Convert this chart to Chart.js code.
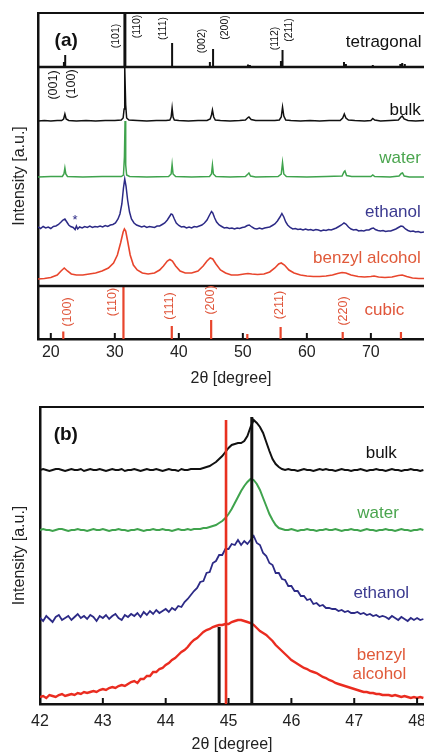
<!DOCTYPE html>
<html lang="en">
<head>
<meta charset="UTF-8">
<title>XRD patterns</title>
<script src="https://cdn.jsdelivr.net/npm/chart.js"></script>
<style>
  body { margin: 0; background: #fff; width: 424px; height: 754px; overflow: hidden; position: relative; }
  #boxA { position: absolute; left: 0; top: 0; }
  #boxB { position: absolute; left: 0; top: 395px; }
</style>
</head>
<body>
<div id="boxA"><canvas id="chartA" width="424" height="395"></canvas></div>
<div id="boxB"><canvas id="chartB" width="424" height="359"></canvas></div>
<script>
// ---------- panel (a): 2theta 18-78, intensities in a.u. above each baseline ----------
const ticksA = [20, 30, 40, 50, 60, 70];

const bulkA = [[18,0],[19,0.5],[20,0],[21,0.5],[21.7,0.5],[22.0,2],[22.2,7],[22.4,2],[22.8,0.5],[24,0],[25.5,0.5],[27,0],[28.5,0.5],[30,0.5],[31.0,1],[31.3,3],[31.45,12],[31.55,54],[31.7,16],[31.85,3],[32.2,1],[33.5,0.5],[35,0],[36.5,0.5],[38.0,0.5],[38.6,1],[38.8,4],[38.95,13],[39.1,4],[39.3,1],[40,0.5],[41.5,0],[43,0.5],[44.4,0.5],[44.9,2],[45.1,6],[45.25,11],[45.45,4],[45.7,1],[46.5,0.5],[48,0],[49.5,0.5],[50.4,1],[50.8,3.5],[50.95,4],[51.3,1.5],[52,0.5],[53.5,0.5],[55,0.5],[55.7,1],[56.0,4],[56.2,14],[56.4,5],[56.7,1],[57.5,0.5],[59,0],[60.5,0.5],[62,0],[63.5,0.5],[65.2,0.5],[65.6,3],[65.85,7],[66.1,3],[66.5,1],[67.5,0.5],[69,0],[70.0,0.5],[70.3,2.5],[70.6,1],[71.5,0],[73,0.5],[74.3,1],[74.7,4],[74.9,5],[75.2,2],[75.8,0.5],[77,0],[78.3,0.5]];

const waterA = [[18,0],[20,0.5],[21.8,0.5],[22.05,3],[22.2,9],[22.35,3],[22.6,0.5],[25,0],[28,0.5],[31.0,0.5],[31.35,2],[31.5,20],[31.6,56],[31.7,12],[31.85,2],[32.3,0.5],[35,0],[38.4,0.5],[38.8,3],[38.95,12.5],[39.1,3],[39.5,0.5],[42,0],[44.8,0.5],[45.1,3],[45.25,12],[45.4,3],[45.8,0.5],[48,0],[50.4,0.5],[50.8,3],[50.95,4],[51.2,1],[52,0],[55.5,0.5],[56.0,3],[56.2,14.5],[56.4,3],[56.8,0.5],[60,0],[63,0.5],[65.5,1],[65.8,5],[65.95,6],[66.2,1.5],[67,0.5],[70,0.5],[70.3,2],[70.6,0.5],[73,0],[74.4,1],[74.75,3.5],[74.95,4],[75.2,1],[76,0],[78.3,0]];

const ethanolA = [[18,1],[18.4,-0.5],[18.8,1.5],[19.2,0],[19.6,1],[20,-0.5],[20.4,1.5],[20.8,2],[21.2,3.5],[21.6,6],[21.9,8],[22.2,9],[22.5,6],[22.8,3],[23.1,1.5],[23.5,0.5],[23.8,-1.5],[24.0,2],[24.2,-1],[24.5,1],[24.9,0],[25.3,1.5],[25.7,0.5],[26.1,2],[26.5,0.5],[26.9,1.5],[27.3,1],[27.7,2],[28.1,1],[28.5,2.5],[28.9,1.5],[29.3,3],[29.7,3.5],[30.1,5],[30.5,9],[30.8,14],[31.1,24],[31.35,40],[31.55,49],[31.75,42],[32.0,28],[32.3,16],[32.6,9],[33.0,5],[33.4,3],[33.8,2],[34.2,1],[34.6,2],[35,0.5],[35.4,1.5],[35.8,1],[36.2,0.5],[36.6,2],[37.0,2],[37.4,3.5],[37.8,5],[38.2,8],[38.5,11],[38.8,14],[39.0,13.5],[39.3,9],[39.6,5],[40.0,2.5],[40.4,1],[40.8,1.5],[41.2,0],[41.6,1],[42.0,0],[42.4,1.5],[42.8,1],[43.2,2],[43.6,3],[44.0,5],[44.4,8],[44.8,13],[45.1,16.5],[45.3,15],[45.6,10],[45.9,6],[46.3,3],[46.7,1.5],[47.1,0],[47.5,0.5],[47.9,-0.5],[48.3,0],[48.7,-1],[49.1,0],[49.5,-0.5],[49.9,0.5],[50.3,1],[50.7,2.5],[51.0,3],[51.4,1],[51.8,-0.5],[52.2,-1],[52.6,0],[53.0,-1],[53.4,0],[53.8,0.5],[54.2,1],[54.6,2.5],[55.0,4],[55.4,7],[55.8,11],[56.1,14.5],[56.4,11],[56.7,6],[57.0,3],[57.4,0.5],[57.8,-1],[58.2,-0.5],[58.6,-1.5],[59,-1],[59.4,-2],[59.8,-1],[60.2,-2],[60.6,-1.5],[61,-2.5],[61.4,-1.5],[61.8,-2],[62.2,-3],[62.6,-2],[63,-2.5],[63.4,-1.5],[63.8,-2],[64.2,-1],[64.6,0],[65,1.5],[65.4,3],[65.8,5],[66.1,4],[66.5,1],[66.9,-1],[67.3,-2],[67.7,-1.5],[68.1,-3],[68.5,-2.5],[68.9,-3],[69.3,-2],[69.7,-2],[70.1,-0.5],[70.4,0],[70.7,-1.5],[71.1,-2.5],[71.5,-3],[71.9,-2.5],[72.3,-3.5],[72.7,-3],[73.1,-3],[73.5,-2],[73.9,-1],[74.3,0.5],[74.7,2],[75.0,1.5],[75.4,-1],[75.8,-2.5],[76.2,-3.5],[76.6,-3],[77,-4],[77.4,-3.5],[77.8,-4.5],[78.3,-4]];

const benzylA = [[18,0],[19,0.5],[20,1.5],[21,4],[21.6,8],[22.1,11],[22.6,8],[23.2,5],[24,4],[25,4],[26,5],[27,6],[28,8],[29,11],[29.8,16],[30.4,24],[30.9,36],[31.3,47],[31.5,50],[31.7,48],[32.0,38],[32.4,24],[32.9,14],[33.5,9],[34.3,6],[35.2,5],[36.2,6],[37.0,9],[37.6,13],[38.2,18],[38.6,19.5],[39.0,18],[39.5,13],[40.2,8],[41.0,6],[42.0,6],[43.0,8],[43.8,13],[44.4,18],[44.9,21],[45.3,20],[45.8,15],[46.5,9],[47.3,6],[48.2,4],[49.2,4],[50.2,5],[50.8,5.5],[51.4,5],[52.3,4.5],[53.3,5],[54.2,7],[55.0,11],[55.6,15],[56.0,16],[56.5,14],[57.2,9],[58.0,6],[59.0,4],[60,3],[61,2.5],[62,2.5],[63,3],[64,4],[64.8,5.5],[65.5,6.5],[66.1,6],[66.9,4],[68,2.5],[69,2],[70,2.5],[70.5,3],[71.2,2],[72.2,1.5],[73.3,2],[74.3,3.5],[74.9,4],[75.6,2.5],[76.5,1],[77.5,0.5],[78.3,0.5]];

// reference patterns: [2theta, relative intensity]
const tetraSticks = [[22.05,5],[22.25,12],[31.5,54],[31.65,54],[38.95,24],[44.85,5],[45.35,18],[50.8,2.5],[51.1,2],[55.95,6],[56.2,17],[65.8,5],[66.1,3],[70.3,2],[74.6,3],[74.9,4],[75.3,3]];
const cubicSticks = [[21.95,7.5],[31.35,53],[38.9,13],[45.05,19],[50.7,5],[55.9,12],[65.6,7],[74.7,7]];

// vertical stacking of panel (a)
const offA = { tetra: 272, bulk: 218, water: 162, ethanol: 111, benzyl: 60, cubic: 0, top: 326, cubicTop: 53 };

// ---------- panel (b): zoom on 42-48 ----------
const ticksB = [42, 43, 44, 45, 46, 47, 48];
const thetaB = [42,42.05,42.1,42.15,42.2,42.25,42.3,42.35,42.4,42.45,
  42.5,42.55,42.6,42.65,42.7,42.75,42.8,42.85,42.9,42.95,
  43,43.05,43.1,43.15,43.2,43.25,43.3,43.35,43.4,43.45,
  43.5,43.55,43.6,43.65,43.7,43.75,43.8,43.85,43.9,43.95,
  44,44.05,44.1,44.15,44.2,44.25,44.3,44.35,44.4,44.45,
  44.5,44.55,44.6,44.65,44.7,44.75,44.8,44.85,44.9,44.95,
  45,45.05,45.1,45.15,45.2,45.25,45.3,45.35,45.4,45.45,
  45.5,45.55,45.6,45.65,45.7,45.75,45.8,45.85,45.9,45.95,
  46,46.05,46.1,46.15,46.2,46.25,46.3,46.35,46.4,46.45,
  46.5,46.55,46.6,46.65,46.7,46.75,46.8,46.85,46.9,46.95,
  47,47.05,47.1,47.15,47.2,47.25,47.3,47.35,47.4,47.45,
  47.5,47.55,47.6,47.65,47.7,47.75,47.8,47.85,47.9,47.95,
  48,48.05,48.1];
const bulkB = [0,1,0,-1,0,1,1,0,-1,0,
  1,0,0,1,-1,0,1,0,0,1,
  0,-1,0,1,0,0,1,-1,0,0,
  1,0,-1,0,1,0,0,1,0,-1,
  0,1,0,0,-1,1,0,0,1,1,
  1,1,2,3,4,6,8,11,14,18,
  22,25,26,27,27,29,34,43,50,47,
  43,37,28,19,11,6,3,1,0,1,
  0,0,-1,0,1,0,0,-1,0,1,
  0,1,0,0,-1,0,1,0,0,-1,
  0,0,1,0,-1,0,0,1,0,0,
  -1,0,1,0,0,-1,0,0,1,0,
  0,-1,0];
const waterB = [0,1,0,0,-1,0,1,1,0,-1,
  0,0,1,0,0,-1,0,1,0,0,
  1,0,-1,0,0,1,0,0,-1,0,
  0,1,0,-1,0,0,1,0,0,1,
  0,0,-1,0,1,0,0,1,0,1,
  1,1,2,2,3,4,5,7,9,12,
  16,21,27,33,39,44,48,51,50,46,
  40,32,24,16,10,5,2,1,0,0,
  1,0,-1,0,0,1,0,0,-1,0,
  0,1,0,0,1,0,-1,0,0,1,
  0,0,-1,0,1,0,0,-1,0,0,
  1,0,0,-1,0,1,0,0,-1,0,
  0,1,0];
const ethanolB = [1,-2,3,0,-3,2,4,-1,1,3,
  -1,2,5,1,3,0,4,2,-2,3,
  1,4,0,3,5,1,-1,4,2,5,
  3,6,2,7,4,8,5,9,6,8,
  10,7,11,9,13,12,17,20,24,28,
  31,37,38,46,47,56,58,64,64,70,
  70,75,74,79,74,78,75,79,83,76,
  74,66,63,56,54,46,46,40,39,33,
  33,28,28,23,23,19,20,15,16,13,
  14,11,11,10,10,8,9,7,8,6,
  6,7,5,6,4,5,3,4,2,3,
  2,0,3,1,-1,2,0,-2,1,-1,
  1,-1,0];
const benzylB = [0,1,-1,2,1,0,2,3,1,2,
  3,2,4,3,5,4,5,6,5,7,
  8,7,9,10,9,11,12,11,13,15,
  16,14,18,18,21,21,25,25,28,29,
  32,34,37,39,42,45,47,50,54,57,
  59,62,65,67,68,70,71,72,72,73,
  73,75,76,77,77,76,75,74,72,69,
  66,64,62,59,56,52,49,46,43,40,
  37,35,33,31,29,28,26,25,24,22,
  20,19,17,16,14,13,12,11,10,9,
  8,7,6,5,5,4,4,3,3,2,
  2,2,1,2,1,0,1,0,-1,0,
  -1,0,-1];
const cubicRefB = [[44.96, 284]];
const tetraRefB = [[44.85, 77], [45.37, 287]];

const offB = { bulk: 234, water: 174, ethanol: 85, benzyl: 7, top: 297 };

// ---------- helpers ----------
const FONT = "'Liberation Sans', Arial, Helvetica, sans-serif";
Chart.defaults.font.family = FONT;
Chart.defaults.color = '#222';

function shifted(points, offset) {
  return points.map(p => ({ x: p[0], y: p[1] + offset }));
}
function zipped(xs, ys, offset) {
  return xs.map((x, i) => ({ x: x, y: ys[i] + offset }));
}
function sticks(list, base) {
  const out = [];
  list.forEach(s => {
    out.push({ x: s[0], y: base }, { x: s[0], y: base + s[1] }, { x: s[0], y: null });
  });
  return out;
}
function line(data, color, width) {
  return { data: data, borderColor: color, borderWidth: width, showLine: true, pointRadius: 0, spanGaps: false, tension: 0 };
}

// rules, inward ticks and text labels
const decor = {
  id: 'decor',
  afterDatasetsDraw(chart, args, opts) {
    const { ctx, chartArea } = chart;
    const xs = chart.scales.x, ys = chart.scales.y;
    ctx.save();
    ctx.strokeStyle = '#111';
    (opts.rules || []).forEach(r => {
      const py = ys.getPixelForValue(r.value);
      ctx.lineWidth = r.width;
      ctx.beginPath();
      ctx.moveTo(chartArea.left, py);
      ctx.lineTo(chartArea.right, py);
      ctx.stroke();
    });
    ctx.lineWidth = 2;
    xs.ticks.forEach(t => {
      const px = xs.getPixelForValue(t.value);
      ctx.beginPath();
      ctx.moveTo(px, chartArea.bottom);
      ctx.lineTo(px, chartArea.bottom - 6);
      ctx.stroke();
    });
    (opts.texts || []).forEach(t => {
      ctx.save();
      ctx.translate(xs.getPixelForValue(t.x), ys.getPixelForValue(t.y));
      if (t.rotate) ctx.rotate(-Math.PI / 2);
      ctx.font = t.font;
      ctx.fillStyle = t.color;
      ctx.textAlign = t.align || 'center';
      ctx.textBaseline = 'middle';
      ctx.fillText(t.text, 0, 0);
      ctx.restore();
    });
    ctx.restore();
  }
};

const cBlack = '#111', cGreen = '#3fa34d', cBlue = '#2c2a86', cRed = '#e8452c';
const fHkl = '10.5px ' + FONT, fHklBig = '12.5px ' + FONT, fName = '17px ' + FONT;

// ---------- chart (a) ----------
const textsA = [
  { text: '(a)', x: 22.4, y: 298, font: 'bold 19px ' + FONT, color: cBlack },
  { text: 'tetragonal', x: 77.9, y: 297, font: fName, color: cBlack, align: 'right' },
  { text: '(101)', x: 30.2, y: 303, font: fHkl, color: cBlack, rotate: true },
  { text: '(110)', x: 33.5, y: 312.5, font: fHkl, color: cBlack, rotate: true },
  { text: '(111)', x: 37.5, y: 310.5, font: fHkl, color: cBlack, rotate: true },
  { text: '(002)', x: 43.6, y: 298, font: fHkl, color: cBlack, rotate: true },
  { text: '(200)', x: 47.2, y: 311.5, font: fHkl, color: cBlack, rotate: true },
  { text: '(112)', x: 55.0, y: 300.5, font: fHkl, color: cBlack, rotate: true },
  { text: '(211)', x: 57.2, y: 309, font: fHkl, color: cBlack, rotate: true },
  { text: '(001)', x: 20.4, y: 254, font: fHklBig, color: cBlack, rotate: true },
  { text: '(100)', x: 23.2, y: 255, font: fHklBig, color: cBlack, rotate: true },
  { text: 'bulk', x: 77.8, y: 229, font: fName, color: cBlack, align: 'right' },
  { text: 'water', x: 77.8, y: 181, font: fName, color: '#4aa54e', align: 'right' },
  { text: 'ethanol', x: 77.8, y: 127, font: fName, color: '#3b3a90', align: 'right' },
  { text: 'benzyl alcohol', x: 77.8, y: 81, font: fName, color: '#e05a3a', align: 'right' },
  { text: '*', x: 23.8, y: 119, font: '13px ' + FONT, color: cBlue },
  { text: 'cubic', x: 72.1, y: 29, font: fName, color: '#e0553a' },
  { text: '(100)', x: 22.6, y: 27, font: fHklBig, color: '#e0553a', rotate: true },
  { text: '(110)', x: 29.7, y: 37, font: fHklBig, color: '#e0553a', rotate: true },
  { text: '(111)', x: 38.6, y: 33, font: fHklBig, color: '#e0553a', rotate: true },
  { text: '(200)', x: 44.95, y: 39, font: fHklBig, color: '#e0553a', rotate: true },
  { text: '(211)', x: 55.8, y: 34, font: fHklBig, color: '#e0553a', rotate: true },
  { text: '(220)', x: 65.7, y: 28, font: fHklBig, color: '#e0553a', rotate: true }
];

new Chart(document.getElementById('chartA'), {
  type: 'scatter',
  data: {
    datasets: [
      line(sticks(tetraSticks, offA.tetra), cBlack, 2),
      line(sticks(cubicSticks, offA.cubic), cRed, 2.2),
      line(shifted(bulkA, offA.bulk), cBlack, 1.5),
      line(shifted(waterA, offA.water), cGreen, 1.5),
      line(shifted(ethanolA, offA.ethanol), cBlue, 1.5),
      line(shifted(benzylA, offA.benzyl), cRed, 1.6)
    ]
  },
  options: {
    responsive: false,
    animation: false,
    devicePixelRatio: 1,
    layout: { padding: { top: 13, left: 0, right: 0, bottom: 0 } },
    plugins: {
      legend: { display: false },
      tooltip: { enabled: false },
      decor: {
        rules: [{ value: offA.top, width: 2.2 }, { value: offA.tetra, width: 2.5 }, { value: offA.cubicTop, width: 2.5 }],
        texts: textsA
      }
    },
    scales: {
      x: {
        type: 'linear', min: 18, max: 78.3,
        afterBuildTicks: s => { s.ticks = ticksA.map(v => ({ value: v })); },
        afterFit: s => { s.height = 56; s.paddingLeft = 0; s.paddingRight = 0; },
        grid: { display: false, drawTicks: false },
        border: { display: true, width: 2.5, color: cBlack },
        ticks: { color: '#222', font: { size: 16 }, padding: 4, maxRotation: 0 },
        title: { display: true, text: '2θ [degree]', color: '#222', font: { size: 16 }, padding: { top: 0, bottom: 7 } }
      },
      y: {
        min: 0, max: offA.top,
        afterFit: s => { s.width = 38; s.paddingTop = 0; s.paddingBottom = 0; },
        grid: { display: false, drawTicks: false },
        border: { display: true, width: 2.5, color: cBlack },
        ticks: { display: false },
        title: { display: true, text: 'Intensity [a.u.]', color: '#222', font: { size: 16 }, padding: { top: 10, bottom: 0 } }
      }
    }
  },
  plugins: [decor]
});

// ---------- chart (b) ----------
const textsB = [
  { text: '(b)', x: 42.41, y: 269, font: 'bold 19px ' + FONT, color: cBlack },
  { text: 'bulk', x: 47.43, y: 251, font: fName, color: cBlack },
  { text: 'water', x: 47.38, y: 191, font: fName, color: '#4aa54e' },
  { text: 'ethanol', x: 47.43, y: 111, font: fName, color: '#3b3a90' },
  { text: 'benzyl', x: 47.43, y: 49, font: fName, color: '#e05a3a' },
  { text: 'alcohol', x: 47.40, y: 30, font: fName, color: '#e05a3a' }
];

new Chart(document.getElementById('chartB'), {
  type: 'scatter',
  data: {
    datasets: [
      line(sticks(tetraRefB, 0), cBlack, 3),
      line(sticks(cubicRefB, 0), '#e8301f', 2.6),
      line(zipped(thetaB, bulkB, offB.bulk), cBlack, 2),
      line(zipped(thetaB, waterB, offB.water), cGreen, 2),
      line(zipped(thetaB, ethanolB, offB.ethanol), cBlue, 1.8),
      line(zipped(thetaB, benzylB, offB.benzyl), '#ea2c20', 2.4)
    ]
  },
  options: {
    responsive: false,
    animation: false,
    devicePixelRatio: 1,
    layout: { padding: { top: 12, left: 0, right: 0, bottom: 0 } },
    plugins: {
      legend: { display: false },
      tooltip: { enabled: false },
      decor: { rules: [{ value: offB.top, width: 2.2 }], texts: textsB }
    },
    scales: {
      x: {
        type: 'linear', min: 42, max: 48.11,
        afterBuildTicks: s => { s.ticks = ticksB.map(v => ({ value: v })); },
        afterFit: s => { s.height = 50; s.paddingLeft = 0; s.paddingRight = 0; },
        grid: { display: false, drawTicks: false },
        border: { display: true, width: 2.5, color: cBlack },
        ticks: { color: '#222', font: { size: 16 }, padding: 8, maxRotation: 0 },
        title: { display: true, text: '2θ [degree]', color: '#222', font: { size: 16 }, padding: { top: 0, bottom: 0 } }
      },
      y: {
        min: 0, max: offB.top,
        afterFit: s => { s.width = 40; s.paddingTop = 0; s.paddingBottom = 0; },
        grid: { display: false, drawTicks: false },
        border: { display: true, width: 2.5, color: cBlack },
        ticks: { display: false },
        title: { display: true, text: 'Intensity [a.u.]', color: '#222', font: { size: 16 }, padding: { top: 10, bottom: 0 } }
      }
    }
  },
  plugins: [decor]
});
</script>
</body>
</html>
